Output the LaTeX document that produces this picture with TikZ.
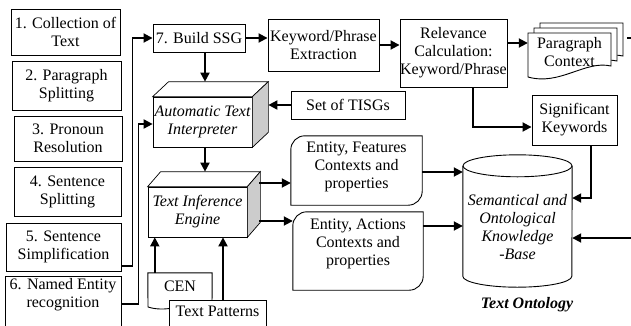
\documentclass[tikz,border=0pt]{standalone}
\usepackage{fontspec}
\setmainfont{Liberation Serif}
\usetikzlibrary{arrows.meta,calc}

\begin{document}
\begin{tikzpicture}[x=1pt,y=-1pt,
  every node/.style={font=\fontsize{16}{18}\selectfont, align=center, inner sep=0pt},
  frame/.style={draw, line width=0.9pt},
  stepbox/.style={frame, fill=white},
  itx/.style={font=\fontsize{16}{18}\selectfont\itshape},
  arr/.style={line width=1.8pt, -{Triangle[length=9pt,width=9pt]}},
  link/.style={line width=1.8pt},
  face/.style={draw, line width=0.7pt, fill=white},
  side/.style={draw, line width=0.7pt, fill=gray!40},
]
\useasboundingbox (0,0) rectangle (631,325);

% processing steps, left column
\node[stepbox, minimum width=109pt, minimum height=46pt] (b1) at (65.5,32) {1. Collection of\\Text};
\node[stepbox, minimum width=109pt, minimum height=49pt] (b2) at (66.5,85.5) {2. Paragraph\\Splitting};
\node[stepbox, minimum width=108pt, minimum height=45pt] (b3) at (68,138.5) {3. Pronoun\\Resolution};
\node[stepbox, minimum width=107pt, minimum height=49pt] (b4) at (67.5,191.5) {4. Sentence\\Splitting};
\node[stepbox, minimum width=115pt, minimum height=48pt] (b5) at (63.5,247) {5. Sentence\\Simplification};
\node[stepbox, minimum width=116pt, minimum height=64pt, anchor=north] (b6) at (63,276) {};
\node (b6t) at ([yshift=-19pt]b6.north) {6. Named Entity\\recognition};

% top row
\node[stepbox, minimum width=92pt, minimum height=28pt] (ssg) at (199,38) {7. Build SSG};
\node[stepbox, minimum width=111pt, minimum height=52pt] (kw) at (323.5,45) {Keyword/Phrase\\Extraction};
\node[stepbox, minimum width=107pt, minimum height=68pt] (rel) at (453.5,53) {Relevance\\Calculation:\\Keyword/Phrase};

% stacked paragraph-context pages
\draw[frame, fill=white, shift={(12pt,10pt)}] (528,33) -- (611,33) -- (611,66) .. controls (585,60) and (560,86) .. (528,77) -- cycle;
\draw[frame, fill=white, shift={(6pt,5pt)}] (528,33) -- (611,33) -- (611,66) .. controls (585,60) and (560,86) .. (528,77) -- cycle;
\draw[frame, fill=white] (528,33) -- (611,33) -- (611,66) .. controls (585,60) and (560,86) .. (528,77) -- cycle;
\node[minimum width=83pt, minimum height=37pt] (para) at (569.5,52) {Paragraph\\Context};

\node[stepbox, minimum width=114pt, minimum height=28pt] (tisg) at (348,105) {Set of TISGs};
\node[stepbox, minimum width=85pt, minimum height=50pt] (sig) at (574.5,120) {Significant\\Keywords};

% 3D blocks
\node[face, itx, minimum width=99pt, minimum height=50pt] (ati) at (202.5,122) {Automatic Text\\Interpreter};
\draw[face] (ati.north west) -- ++(16pt,15pt) -- ([shift={(16pt,15pt)}]ati.north east) -- (ati.north east) -- cycle;
\draw[side] (ati.north east) -- ++(16pt,15pt) -- ([shift={(16pt,15pt)}]ati.south east) -- (ati.south east) -- cycle;

\node[face, itx, minimum width=99pt, minimum height=50pt] (tie) at (197.5,212) {Text Inference\\Engine};
\draw[face] (tie.north west) -- ++(13pt,15pt) -- ([shift={(13pt,15pt)}]tie.north east) -- (tie.north east) -- cycle;
\draw[side] (tie.north east) -- ++(13pt,15pt) -- ([shift={(13pt,15pt)}]tie.south east) -- (tie.south east) -- cycle;

% context boxes
\node[minimum width=131pt, minimum height=69pt] (feat) at (356.5,170.5) {};
\draw[frame] (feat.south west) -- ([yshift=-14pt]feat.north west) arc[start angle=180, end angle=90, radius=14pt]
  -- (feat.north east) -- ([yshift=14pt]feat.south east) arc[start angle=0, end angle=-90, radius=14pt] -- cycle;
\node (featt) at ([yshift=4pt]feat.center) {Entity, Features\\Contexts and\\properties};

\node[minimum width=130pt, minimum height=78pt] (act) at (358,251) {};
\draw[frame] (act.south west) -- ([yshift=-14pt]act.north west) arc[start angle=180, end angle=90, radius=14pt]
  -- (act.north east) -- ([yshift=14pt]act.south east) arc[start angle=0, end angle=-90, radius=14pt] -- cycle;
\node (actt) at ([yshift=7pt]act.center) {Entity, Actions\\Contexts and\\properties};

% knowledge base cylinder
\node[minimum width=109pt, minimum height=110pt] (kb) at (517.5,221) {};
\draw[frame] (kb.north west) -- (kb.south west) arc[start angle=180, end angle=360, x radius=54.5pt, y radius=11pt] -- (kb.north east);
\draw[frame] (kb.north) ellipse [x radius=54.5pt, y radius=11pt];
\node[itx] (kbt) at ([yshift=-6pt]kb.center) {Semantical and\\Ontological\\Knowledge\\-Base};
\node[font=\fontsize{16}{18}\selectfont\bfseries\itshape] (onto) at (527,305) {Text Ontology};

% resources below the inference engine
\node[minimum width=64pt, minimum height=27pt] (cen) at (180,286.5) {CEN};
\draw[frame] (cen.north west) -- (cen.north east) -- (212,306) .. controls (190,300) and (170,314) .. (148,307) -- cycle;
\node[stepbox, minimum width=97pt, minimum height=44pt, anchor=north] (tp) at (217.5,300) {};
\node (tpt) at ([yshift=-11pt]tp.north) {Text Patterns};

% connectors
\draw[arr] (b5.east |- 0,266) -- ++(11pt,0) |- (ssg.west);
\draw[arr] (b6.east |- 0,304) -- ++(17pt,0) |- ([yshift=-2pt]ati.west);
\draw[arr] (ssg.east) -- (ssg.east -| kw.west);
\draw[arr] (kw.east) -- (kw.east -| rel.west);
\draw[arr] (rel.east |- 0,43) -- (para.west |- 0,43);
\draw[arr] ([xshift=19.5pt]rel.south) |- (sig.west |- 0,127);
\draw[arr] ([xshift=16.5pt]sig.south) |- (kb.east |- 0,198);
\coordinate (inR) at (631,238);
\draw[arr] (inR) -- (kb.east |- inR);
\coordinate (outR) at (631,38);
\draw[link] (outR) -- ++(-4pt,0);

\coordinate (atiTop) at ([shift={(2.5pt,15pt)}]ati.north);
\draw[arr] (ssg.south -| atiTop) -- (atiTop);
\coordinate (tieTop) at ([shift={(7.5pt,15pt)}]tie.north);
\draw[arr] (ati.south -| tieTop) -- (tieTop);
\coordinate (atiR) at ([xshift=16pt]ati.east);
\draw[arr] (tisg.west) -- (tisg.west -| atiR);
\coordinate (tieR) at ([xshift=12pt]tie.east);
\draw[arr] (tieR |- 0,183) -- (feat.west |- 0,183);
\draw[arr] (tieR |- 0,221) -- (act.west |- 0,221);
\draw[arr] (feat.east |- 0,172) -- (kb.west |- 0,172);
\draw[arr] (act.east |- 0,226) -- (kb.west |- 0,226);

\coordinate (cenA) at ([xshift=7pt]cen.north west);
\draw[arr] (cenA) -- (cenA |- tie.south);
\coordinate (tpA) at ([xshift=5.5pt]tp.north);
\draw[arr] (tpA) -- (tpA |- tie.south);
\end{tikzpicture}
\end{document}
